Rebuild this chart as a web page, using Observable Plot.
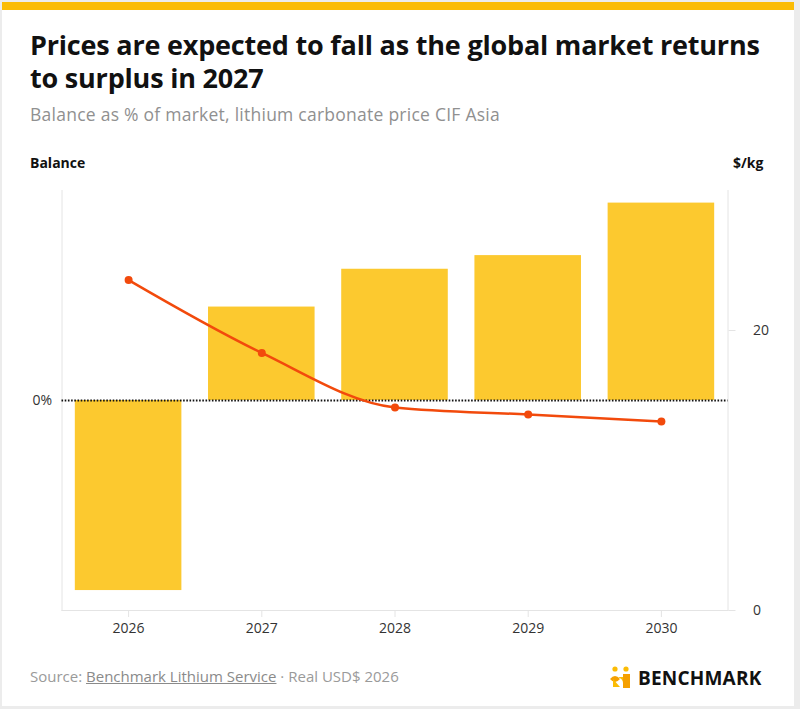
<!DOCTYPE html>
<html>
<head>
<meta charset="utf-8">
<script src="https://cdn.jsdelivr.net/npm/d3@7"></script>
<script src="https://cdn.jsdelivr.net/npm/@observablehq/plot@0.6"></script>
<style>
  html, body { margin: 0; padding: 0; background: #ececec; width: 800px; height: 709px; overflow: hidden; }
  #topbar { position: absolute; left: 2px; top: 2px; width: 792px; height: 8px; background: #fbbc05; }
  #card { position: absolute; left: 2px; top: 10px; width: 792px; height: 696px; background: #fff; font-family: "Open Sans", sans-serif; }
  #title { position: absolute; left: 28px; top: 18px; width: 735px; font-size: 27px; font-weight: 700; line-height: 33px; color: #111; letter-spacing: -0.2px; }
  #subtitle { position: absolute; left: 28px; top: 92px; font-size: 17.5px; color: #909090; font-weight: 400; letter-spacing: 0.25px; }
  .axlab { position: absolute; top: 143px; font-size: 14px; font-weight: 700; color: #111; }
  #chart { position: absolute; left: 0px; top: 130px; width: 800px; }
  #chart svg { max-width: none !important; }
  #source { position: absolute; left: 28px; top: 656px; font-size: 15px; color: #9a9a9a; letter-spacing: 0px; }
  #source span { text-decoration: underline; color: #8a8a8a; }
  #logo { position: absolute; left: 607px; top: 655px; display: flex; align-items: center; }
  #logo .word { font-family: "Open Sans", sans-serif; font-weight: 700; font-size: 19px; color: #111; letter-spacing: 0.2px; margin-left: 3px; }
</style>
</head>
<body>
<div id="topbar"></div>
<div id="card">
  <div id="title">Prices are expected to fall as the global market returns to surplus in 2027</div>
  <div id="subtitle">Balance as % of market, lithium carbonate price CIF Asia</div>
  <div class="axlab" style="left:28px">Balance</div>
  <div class="axlab" style="left:731px">$/kg</div>
  <div id="source">Source: <span>Benchmark Lithium Service</span> · Real USD$ 2026</div>
  <div id="logo">
    <svg width="26" height="26" viewBox="0 0 26 26">
      <circle cx="6" cy="4" r="2.6" fill="#fbbc05"/>
      <circle cx="17" cy="4" r="2.6" fill="#fbbc05"/>
      <path d="M1 14 Q6 8 11 14 Q6 20 1 14Z" fill="#f5a000"/>
      <path d="M4 14 L11 22 L4 22 Z" fill="#fbbc05"/>
      <rect x="14" y="9" width="7" height="14" fill="#f5a000"/>
      <path d="M9 12 Q14 14 14 18 L14 12Z" fill="#fbbc05"/>
    </svg>
    <div class="word">BENCHMARK</div>
  </div>
</div>
<div id="chart" style="top:140px"></div>
<script>
const years = ["2026", "2027", "2028", "2029", "2030"];
const balance = [-9.05, 4.45, 6.25, 6.9, 9.4];      // % of market
const price = [23.6, 18.4, 14.5, 14.0, 13.5];        // $/kg
const priceTicks = [0, 20];
const balanceTicks = [0];

const balData = years.map((y, i) => ({year: y, value: balance[i]}));
const priceData = years.map((y, i) => ({year: y, value: price[i]}));

// secondary (price) axis mapped onto balance coordinates
const BMIN = -10, BMAX = 10, PMIN = 0, PMAX = 30;
const toB = p => BMIN + (p - PMIN) * (BMAX - BMIN) / (PMAX - PMIN);
const toP = b => PMIN + (b - BMIN) * (PMAX - PMIN) / (BMAX - BMIN);

const grid = "#e4e4e4";
const chart = Plot.plot({
  width: 800,
  height: 510,
  marginTop: 50,
  marginBottom: 40,
  marginLeft: 61.5,
  marginRight: 72.5,
  style: {fontFamily: "'Open Sans', sans-serif", fontSize: "14px", color: "#333", overflow: "visible", maxWidth: "none"},
  x: {domain: years, paddingInner: 0.2, paddingOuter: 0.1, round: false, label: null},
  y: {domain: [BMIN, BMAX], label: null},
  marks: [
    Plot.barY(balData, {x: "year", y: "value", fill: "#fcc92f"}),
    Plot.frame({anchor: "left", stroke: grid}),
    Plot.frame({anchor: "right", stroke: grid}),
    Plot.frame({anchor: "bottom", stroke: grid}),
    Plot.axisX({tickSize: 7, tickPadding: 6, stroke: grid, fill: "#333", fontSize: 14}),
    Plot.axisY(balanceTicks, {anchor: "left", tickSize: 0, tickPadding: 10, tickFormat: d => d + "%", fill: "#333", fontSize: 14}),
    Plot.axisY(priceTicks.map(toB), {anchor: "right", tickSize: 7, tickPadding: 18, stroke: grid, tickFormat: d => Math.round(toP(d)), fill: "#333", fontSize: 14}),
    Plot.ruleY([0], {stroke: "#111", strokeWidth: 2, strokeDasharray: "1.6,1.6"}),
    Plot.lineY(priceData, {x: "year", y: d => toB(d.value), stroke: "#f24a0c", strokeWidth: 2.5, curve: "monotone-x"}),
    Plot.dot(priceData, {x: "year", y: d => toB(d.value), r: 4, fill: "#f24a0c"})
  ]
});
document.getElementById("chart").appendChild(chart);
</script>
</body>
</html>
